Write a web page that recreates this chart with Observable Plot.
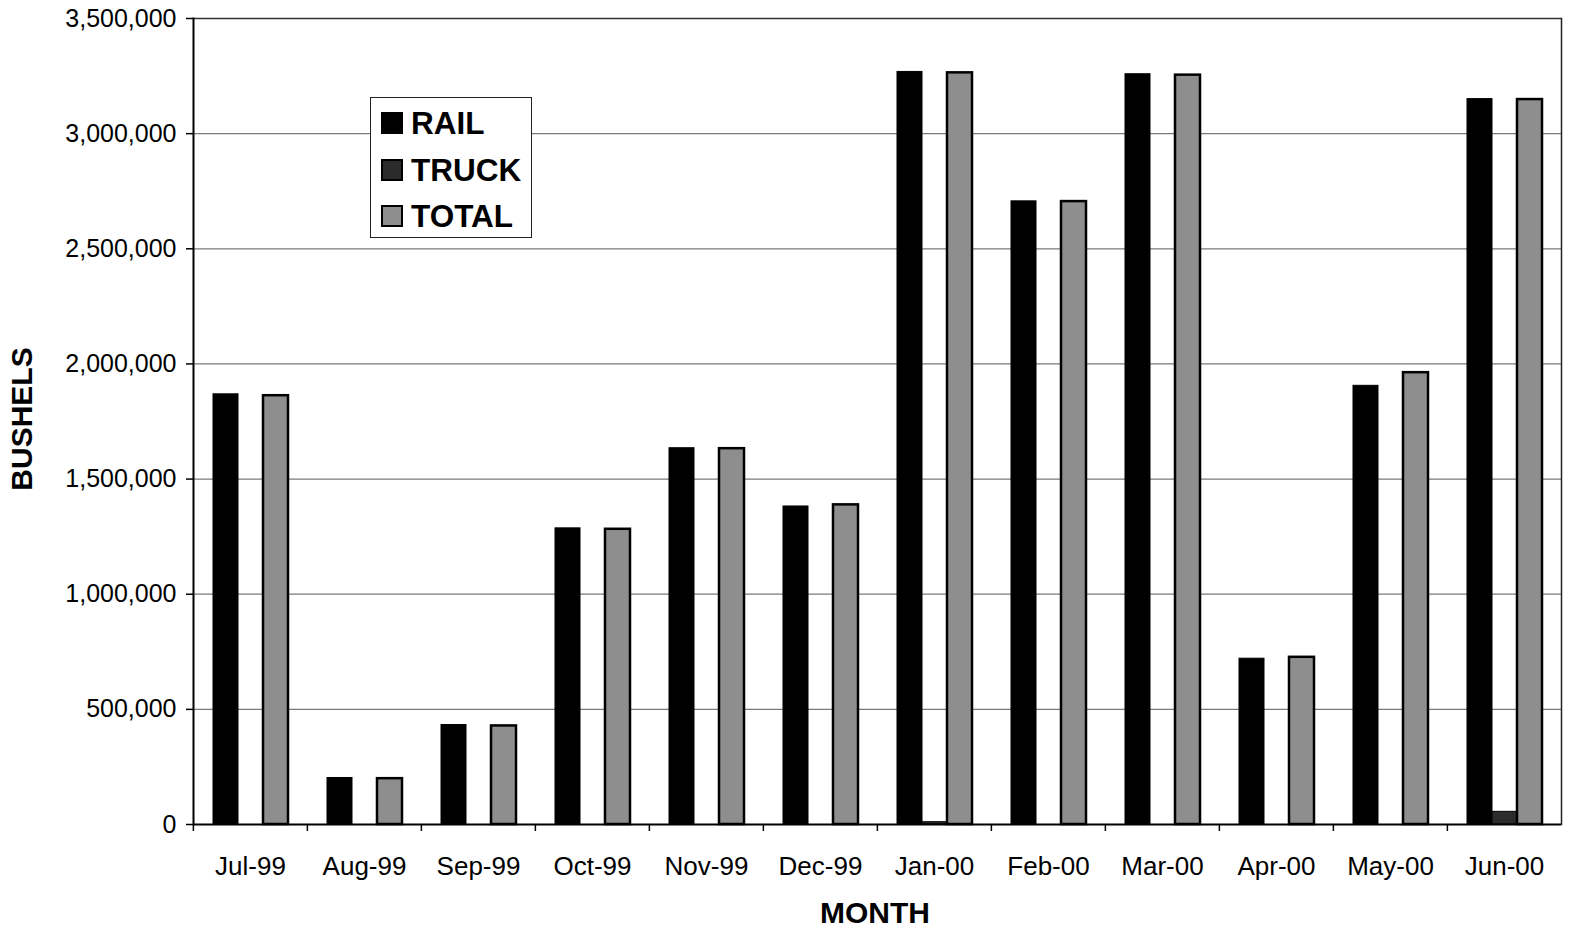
<!DOCTYPE html>
<html>
<head>
<meta charset="utf-8">
<script src="https://cdn.jsdelivr.net/npm/d3@7"></script>
<script src="https://cdn.jsdelivr.net/npm/@observablehq/plot@0.6"></script>
<style>
  html, body { margin: 0; padding: 0; background: #fff; }
  #wrap { position: relative; width: 1571px; height: 930px; font-family: "Liberation Sans", Arial, sans-serif; color: #000; }
  #wrap svg { position: absolute; left: 0; top: 0; }
  .legend { position: absolute; left: 370px; top: 97px; width: 160px; height: 139px; border: 1.5px solid #222; background: #fff; }
  .legend .row { position: absolute; left: 10px; display: flex; align-items: center; height: 30px; }
  .legend .sw { width: 22px; height: 22px; margin-right: 8px; box-sizing: border-box; }
  .legend .lab { font-weight: bold; font-size: 31.5px; line-height: 30px; }
  .title { position: absolute; font-weight: bold; font-size: 30px; white-space: nowrap; line-height: 1; }
</style>
</head>
<body>
<div id="wrap"></div>
<script>
// ---- data ----
const months = ["Jul-99","Aug-99","Sep-99","Oct-99","Nov-99","Dec-99","Jan-00","Feb-00","Mar-00","Apr-00","May-00","Jun-00"];
const rail   = [1868000, 202000, 432000, 1286000, 1634000, 1381000, 3268000, 2706000, 3258000, 720000, 1905000, 3150000];
const truck  = [0, 0, 0, 0, 0, 0, 10000, 0, 0, 0, 0, 55000];
const total  = [1862000, 199000, 428000, 1282000, 1632000, 1388000, 3264000, 2705000, 3254000, 726000, 1962000, 3148000];
const seriesNames = ["RAIL", "TRUCK", "TOTAL"];
const seriesColors = ["#000000", "#2b2b2b", "#8e8e8e"];
const yTicks = [0, 500000, 1000000, 1500000, 2000000, 2500000, 3000000, 3500000];
const yLabel = "BUSHELS";
const xLabel = "MONTH";

// ---- rows ----
const rows = [];
months.forEach((m, i) => {
  rows.push({month: m, series: "RAIL", value: rail[i]});
  rows.push({month: m, series: "TRUCK", value: truck[i]});
  rows.push({month: m, series: "TOTAL", value: total[i]});
});

const W = 1571, H = 930, ML = 191, MR = 9, MT = 18, MB = 106;
const step = (W - ML - MR) / months.length;

const chart = Plot.plot({
  width: W, height: H,
  marginLeft: ML, marginRight: MR, marginTop: MT, marginBottom: MB,
  style: {fontFamily: "'Liberation Sans', Arial, sans-serif", fontSize: "25px", background: "white", color: "black"},
  fx: {domain: months, padding: 0, axis: null},
  x: {domain: seriesNames, paddingInner: 0, paddingOuter: 0.7, axis: null},
  y: {domain: [0, 3500000], axis: null},
  color: {domain: seriesNames, range: seriesColors},
  marks: [
    Plot.ruleY(yTicks.filter(d => d > 0 && d < 3500000), {stroke: "#7a7a7a", strokeWidth: 1.2}),
    Plot.ruleY([3500000], {stroke: "#333", strokeWidth: 1.5}),
    Plot.barY(rows.filter(d => d.series === "RAIL"), {fx: "month", x: "series", y: "value", fill: "series", stroke: "#000", strokeWidth: 1}),
    Plot.barY(rows.filter(d => d.series === "TRUCK" && d.value > 0), {fx: "month", x: "series", y: "value", fill: "series", stroke: "#000", strokeWidth: 1}),
    Plot.barY(rows.filter(d => d.series === "TOTAL"), {fx: "month", x: "series", y: "value", fill: "series", stroke: "#000", strokeWidth: 2.5}),
    Plot.ruleY([0], {stroke: "#000", strokeWidth: 2}),
    Plot.frame({anchor: "left", facetAnchor: "left", stroke: "#000", strokeWidth: 2}),
    Plot.frame({anchor: "right", facetAnchor: "right", stroke: "#222", strokeWidth: 1.5}),
    Plot.axisY(yTicks, {tickSize: 7, tickPadding: 10, tickFormat: d3.format(","), fontSize: 25, label: null, strokeWidth: 1.5}),
    Plot.axisFx({anchor: "bottom", tickSize: 7, text: null, dx: -step / 2, label: null, strokeWidth: 1.5}),
    Plot.axisFx({anchor: "bottom", tickSize: 0, tickPadding: 32, fontSize: 26, label: null})
  ]
});

const wrap = document.getElementById("wrap");
wrap.appendChild(chart);

// legend
const legend = document.createElement("div");
legend.className = "legend";
seriesNames.forEach((s, i) => {
  const row = document.createElement("div");
  row.className = "row";
  row.style.top = (10 + i * 46.5) + "px";
  const sw = document.createElement("div");
  sw.className = "sw";
  sw.style.background = seriesColors[i];
  sw.style.border = "2px solid #000";
  const lab = document.createElement("div");
  lab.className = "lab";
  lab.textContent = s;
  row.appendChild(sw); row.appendChild(lab);
  legend.appendChild(row);
});
wrap.appendChild(legend);

// axis titles
const xt = document.createElement("div");
xt.className = "title";
xt.textContent = xLabel;
xt.style.left = "875px"; xt.style.top = "913px";
xt.style.transform = "translate(-50%, -50%)";
wrap.appendChild(xt);

const yt = document.createElement("div");
yt.className = "title";
yt.textContent = yLabel;
yt.style.left = "22px"; yt.style.top = "419px";
yt.style.transform = "translate(-50%, -50%) rotate(-90deg)";
wrap.appendChild(yt);
</script>
</body>
</html>
